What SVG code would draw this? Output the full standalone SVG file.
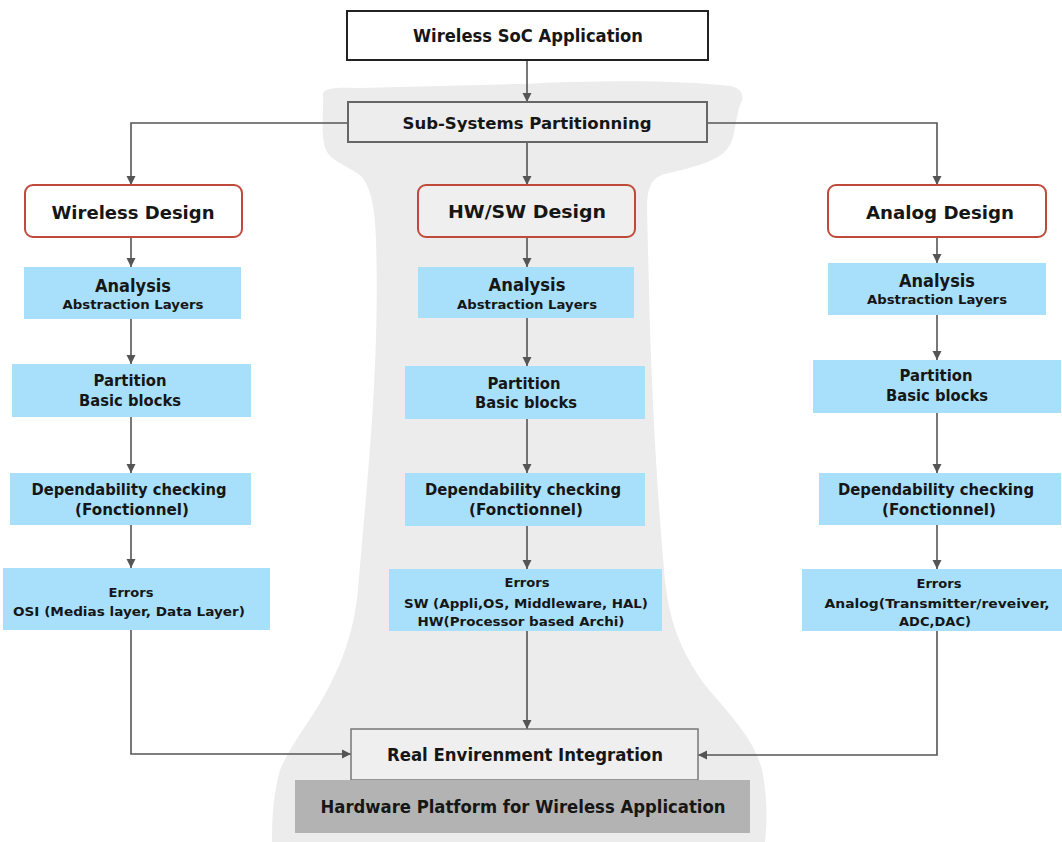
<svg xmlns="http://www.w3.org/2000/svg" width="1062" height="842" viewBox="0 0 1062 842">
  <style>
    text { font-family: "DejaVu Sans", Verdana, sans-serif; font-weight: bold; fill: #161616; text-anchor: middle; }
    .t17 { font-size: 17px; }
    .t16 { font-size: 16px; }
    .t15 { font-size: 15px; }
    .t13 { font-size: 13px; }
    .step { fill: #a8e0fb; stroke: none; }
    .design { stroke: #bf4a3a; stroke-width: 2; }
    .link { fill: none; stroke: #555; stroke-width: 1.6; }
  </style>
  <defs>
    <marker id="arrow" markerUnits="userSpaceOnUse" markerWidth="10" markerHeight="10" refX="9" refY="5" orient="auto">
      <path d="M0,0.5 L9,5 L0,9.5 z" fill="#555"/>
    </marker>
  </defs>

  <rect width="1062" height="842" fill="#ffffff"/>

  <!-- shaded backdrop behind the hardware/software column -->
  <path id="backdrop" fill="#ececec" d="M 323,95 C 322,88 335,87 360,88 L 520,84 C 600,80 680,80 730,86 C 742,88 745,96 740,105 C 735,120 735,140 728,148 C 718,162 690,168 665,174 C 650,178 647,190 647,210 L 650,330 C 653,420 658,500 664,570 C 668,620 680,650 705,685 C 730,715 755,740 762,770 C 768,800 767,825 765,842 L 272,842 C 272,820 273,795 280,770 C 290,745 315,715 330,685 C 348,650 355,620 358,590 C 362,540 368,480 372,420 C 376,360 378,300 376,240 C 375,205 370,185 360,175 C 345,165 330,160 326,150 C 320,135 324,110 323,95 Z"/>

  <!-- connectors -->
  <g id="connectors">
    <line class="link" x1="527" y1="60" x2="527" y2="102" marker-end="url(#arrow)"/>
    <line class="link" x1="527" y1="142" x2="527" y2="185" marker-end="url(#arrow)"/>
    <polyline class="link" points="348,123 131,123 131,185" marker-end="url(#arrow)"/>
    <polyline class="link" points="707,123 937,123 937,185" marker-end="url(#arrow)"/>

    <line class="link" x1="131" y1="237" x2="131" y2="267" marker-end="url(#arrow)"/>
    <line class="link" x1="131" y1="319" x2="131" y2="364" marker-end="url(#arrow)"/>
    <line class="link" x1="131" y1="417" x2="131" y2="473" marker-end="url(#arrow)"/>
    <line class="link" x1="131" y1="525" x2="131" y2="568" marker-end="url(#arrow)"/>
    <polyline class="link" points="131,630 131,754 351,754" marker-end="url(#arrow)"/>

    <line class="link" x1="527" y1="237" x2="527" y2="267" marker-end="url(#arrow)"/>
    <line class="link" x1="527" y1="318" x2="527" y2="366" marker-end="url(#arrow)"/>
    <line class="link" x1="527" y1="419" x2="527" y2="473" marker-end="url(#arrow)"/>
    <line class="link" x1="527" y1="526" x2="527" y2="569" marker-end="url(#arrow)"/>
    <line class="link" x1="527" y1="631" x2="527" y2="729" marker-end="url(#arrow)"/>

    <line class="link" x1="937" y1="237" x2="937" y2="263" marker-end="url(#arrow)"/>
    <line class="link" x1="937" y1="315" x2="937" y2="360" marker-end="url(#arrow)"/>
    <line class="link" x1="937" y1="413" x2="937" y2="473" marker-end="url(#arrow)"/>
    <line class="link" x1="937" y1="525" x2="937" y2="569" marker-end="url(#arrow)"/>
    <polyline class="link" points="937,631 937,755 698,755" marker-end="url(#arrow)"/>
  </g>

  <!-- top level -->
  <g id="soc-application">
    <rect x="347" y="11" width="361" height="49" fill="#ffffff" stroke="#222" stroke-width="2"/>
    <text class="t17" x="528" y="42" textLength="230" lengthAdjust="spacingAndGlyphs">Wireless SoC Application</text>
  </g>
  <g id="partitioning">
    <rect x="348" y="102" width="359" height="40" fill="#ededed" stroke="#666" stroke-width="2"/>
    <text class="t16" x="527" y="129" textLength="249" lengthAdjust="spacingAndGlyphs">Sub-Systems Partitionning</text>
  </g>

  <!-- design branches -->
  <g id="wireless-design">
    <rect class="design" x="25" y="185" width="217" height="52" rx="8" fill="#ffffff"/>
    <text class="t17" x="133" y="219" textLength="163" lengthAdjust="spacingAndGlyphs">Wireless Design</text>
  </g>
  <g id="hwsw-design">
    <rect class="design" x="418" y="185" width="217" height="52" rx="8" fill="#efefef"/>
    <text class="t17" x="527" y="218" textLength="158" lengthAdjust="spacingAndGlyphs">HW/SW Design</text>
  </g>
  <g id="analog-design">
    <rect class="design" x="828" y="185" width="218" height="52" rx="8" fill="#ffffff"/>
    <text class="t17" x="940" y="219" textLength="148" lengthAdjust="spacingAndGlyphs">Analog Design</text>
  </g>

  <!-- wireless column -->
  <g id="w-analysis">
    <rect class="step" x="24" y="267" width="217" height="52"/>
    <text class="t17" x="133" y="292" textLength="76" lengthAdjust="spacingAndGlyphs">Analysis</text>
    <text class="t13" x="133" y="309" textLength="141" lengthAdjust="spacingAndGlyphs">Abstraction Layers</text>
  </g>
  <g id="w-partition">
    <rect class="step" x="12" y="364" width="239" height="53"/>
    <text class="t15" x="130" y="386" textLength="73" lengthAdjust="spacingAndGlyphs">Partition</text>
    <text class="t15" x="130" y="406" textLength="102" lengthAdjust="spacingAndGlyphs">Basic blocks</text>
  </g>
  <g id="w-dependability">
    <rect class="step" x="10" y="473" width="241" height="52"/>
    <text class="t15" x="129" y="495" textLength="195" lengthAdjust="spacingAndGlyphs">Dependability checking</text>
    <text class="t15" x="132" y="515" textLength="114" lengthAdjust="spacingAndGlyphs">(Fonctionnel)</text>
  </g>
  <g id="w-errors">
    <rect class="step" x="3" y="568" width="267" height="62"/>
    <text class="t13" x="131" y="597" textLength="45" lengthAdjust="spacingAndGlyphs">Errors</text>
    <text class="t13" x="129" y="616" textLength="232" lengthAdjust="spacingAndGlyphs">OSI (Medias layer, Data Layer)</text>
  </g>

  <!-- hardware / software column -->
  <g id="hs-analysis">
    <rect class="step" x="418" y="267" width="216" height="51"/>
    <text class="t17" x="527" y="291" textLength="77" lengthAdjust="spacingAndGlyphs">Analysis</text>
    <text class="t13" x="527" y="309" textLength="140" lengthAdjust="spacingAndGlyphs">Abstraction Layers</text>
  </g>
  <g id="hs-partition">
    <rect class="step" x="405" y="366" width="240" height="53"/>
    <text class="t15" x="524" y="389" textLength="73" lengthAdjust="spacingAndGlyphs">Partition</text>
    <text class="t15" x="526" y="408" textLength="102" lengthAdjust="spacingAndGlyphs">Basic blocks</text>
  </g>
  <g id="hs-dependability">
    <rect class="step" x="405" y="473" width="240" height="53"/>
    <text class="t15" x="523" y="495" textLength="196" lengthAdjust="spacingAndGlyphs">Dependability checking</text>
    <text class="t15" x="526" y="515" textLength="114" lengthAdjust="spacingAndGlyphs">(Fonctionnel)</text>
  </g>
  <g id="hs-errors">
    <rect class="step" x="389" y="569" width="273" height="62"/>
    <text class="t13" x="527" y="587" textLength="45" lengthAdjust="spacingAndGlyphs">Errors</text>
    <text class="t13" x="526" y="608" textLength="244" lengthAdjust="spacingAndGlyphs">SW (Appli,OS, Middleware, HAL)</text>
    <text class="t13" x="521" y="626" textLength="207" lengthAdjust="spacingAndGlyphs">HW(Processor based Archi)</text>
  </g>

  <!-- analog column -->
  <g id="a-analysis">
    <rect class="step" x="828" y="263" width="218" height="52"/>
    <text class="t17" x="937" y="287" textLength="76" lengthAdjust="spacingAndGlyphs">Analysis</text>
    <text class="t13" x="937" y="304" textLength="140" lengthAdjust="spacingAndGlyphs">Abstraction Layers</text>
  </g>
  <g id="a-partition">
    <rect class="step" x="813" y="360" width="248" height="53"/>
    <text class="t15" x="936" y="381" textLength="73" lengthAdjust="spacingAndGlyphs">Partition</text>
    <text class="t15" x="937" y="401" textLength="102" lengthAdjust="spacingAndGlyphs">Basic blocks</text>
  </g>
  <g id="a-dependability">
    <rect class="step" x="819" y="473" width="242" height="52"/>
    <text class="t15" x="936" y="495" textLength="196" lengthAdjust="spacingAndGlyphs">Dependability checking</text>
    <text class="t15" x="939" y="515" textLength="114" lengthAdjust="spacingAndGlyphs">(Fonctionnel)</text>
  </g>
  <g id="a-errors">
    <rect class="step" x="802" y="569" width="260" height="62"/>
    <text class="t13" x="939" y="588" textLength="45" lengthAdjust="spacingAndGlyphs">Errors</text>
    <text class="t13" x="937" y="608" textLength="225" lengthAdjust="spacingAndGlyphs">Analog(Transmitter/reveiver,</text>
    <text class="t13" x="935" y="626" textLength="72" lengthAdjust="spacingAndGlyphs">ADC,DAC)</text>
  </g>

  <!-- integration and platform -->
  <g id="integration">
    <rect x="351" y="729" width="347" height="51" fill="#efefef" stroke="#777" stroke-width="1.5"/>
    <text class="t17" x="525" y="761" textLength="276" lengthAdjust="spacingAndGlyphs">Real Envirenment Integration</text>
  </g>
  <g id="hardware-platform">
    <rect x="295" y="780" width="455" height="53" fill="#b3b3b3"/>
    <text class="t17" x="523" y="813" textLength="405" lengthAdjust="spacingAndGlyphs">Hardware Platform for Wireless Application</text>
  </g>
</svg>
